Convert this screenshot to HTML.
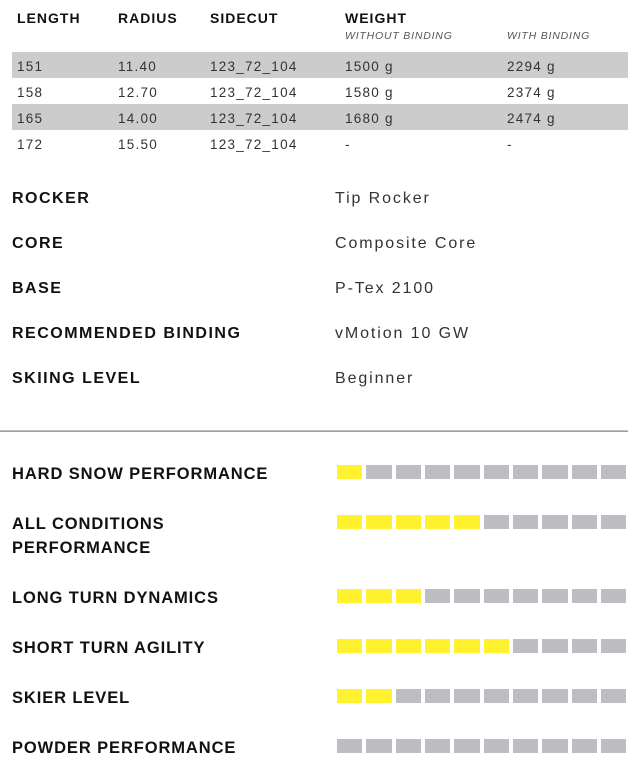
<!DOCTYPE html>
<html><head><meta charset="utf-8"><style>
html,body{margin:0;padding:0;background:#fff;}
svg{display:block;}
.h{font-family:"Liberation Sans",sans-serif;font-weight:bold;font-size:14px;fill:#111;letter-spacing:1px;}
.it{font-family:"Liberation Sans",sans-serif;font-style:italic;font-size:10.5px;fill:#555;letter-spacing:0.8px;}
.d{font-family:"Liberation Sans",sans-serif;font-size:13.5px;fill:#333;letter-spacing:1.25px;}
.l{font-family:"Liberation Sans",sans-serif;font-weight:bold;font-size:16px;fill:#111;letter-spacing:1.5px;}
.v{font-family:"Liberation Sans",sans-serif;font-size:16px;fill:#333;letter-spacing:1.9px;}
.b{font-family:"Liberation Sans",sans-serif;font-weight:bold;font-size:16.5px;fill:#111;letter-spacing:0.9px;}
.y{fill:#FFF12E;}
.g{fill:#BDBEC2;}
</style></head><body>
<svg width="638" height="764" viewBox="0 0 638 764" xmlns="http://www.w3.org/2000/svg">
<text class="h" x="17" y="23">LENGTH</text>
<text class="h" x="118" y="23">RADIUS</text>
<text class="h" x="210" y="23">SIDECUT</text>
<text class="h" x="345" y="23">WEIGHT</text>
<text class="it" x="345" y="39">WITHOUT BINDING</text>
<text class="it" x="507" y="39">WITH BINDING</text>
<rect x="12" y="52" width="616" height="26" fill="#cccccc"/>
<rect x="12" y="104" width="616" height="26" fill="#cccccc"/>
<g class="d">
<text class="d" x="17" y="71">151</text><text class="d" x="118" y="71">11.40</text><text class="d" x="210" y="71">123_72_104</text><text class="d" x="345" y="71">1500 g</text><text class="d" x="507" y="71">2294 g</text>
<text class="d" x="17" y="97">158</text><text class="d" x="118" y="97">12.70</text><text class="d" x="210" y="97">123_72_104</text><text class="d" x="345" y="97">1580 g</text><text class="d" x="507" y="97">2374 g</text>
<text class="d" x="17" y="123">165</text><text class="d" x="118" y="123">14.00</text><text class="d" x="210" y="123">123_72_104</text><text class="d" x="345" y="123">1680 g</text><text class="d" x="507" y="123">2474 g</text>
<text class="d" x="17" y="149">172</text><text class="d" x="118" y="149">15.50</text><text class="d" x="210" y="149">123_72_104</text><text class="d" x="345" y="149">-</text><text class="d" x="507" y="149">-</text>
</g>
<text class="l" x="12" y="203">ROCKER</text><text class="v" x="335" y="203">Tip Rocker</text>
<text class="l" x="12" y="248">CORE</text><text class="v" x="335" y="248">Composite Core</text>
<text class="l" x="12" y="293">BASE</text><text class="v" x="335" y="293">P-Tex 2100</text>
<text class="l" x="12" y="338">RECOMMENDED BINDING</text><text class="v" x="335" y="338">vMotion 10 GW</text>
<text class="l" x="12" y="383">SKIING LEVEL</text><text class="v" x="335" y="383">Beginner</text>
<rect x="0" y="430.5" width="628" height="1.2" fill="#7a7a7a"/>
<text class="b" x="12" y="479">HARD SNOW PERFORMANCE</text>
<text class="b" x="12" y="529">ALL CONDITIONS</text>
<text class="b" x="12" y="553">PERFORMANCE</text>
<text class="b" x="12" y="603">LONG TURN DYNAMICS</text>
<text class="b" x="12" y="653">SHORT TURN AGILITY</text>
<text class="b" x="12" y="703">SKIER LEVEL</text>
<text class="b" x="12" y="753">POWDER PERFORMANCE</text>
<!-- row 1: 1 -->
<g transform="translate(0,465)">
<rect class="y" x="337" width="25" height="14"/><rect class="g" x="366" width="26" height="14"/><rect class="g" x="396" width="25" height="14"/><rect class="g" x="425" width="25" height="14"/><rect class="g" x="454" width="26" height="14"/><rect class="g" x="484" width="25" height="14"/><rect class="g" x="513" width="25" height="14"/><rect class="g" x="542" width="26" height="14"/><rect class="g" x="572" width="25" height="14"/><rect class="g" x="601" width="25" height="14"/>
</g>
<!-- row 2: 5 -->
<g transform="translate(0,515)">
<rect class="y" x="337" width="25" height="14"/><rect class="y" x="366" width="26" height="14"/><rect class="y" x="396" width="25" height="14"/><rect class="y" x="425" width="25" height="14"/><rect class="y" x="454" width="26" height="14"/><rect class="g" x="484" width="25" height="14"/><rect class="g" x="513" width="25" height="14"/><rect class="g" x="542" width="26" height="14"/><rect class="g" x="572" width="25" height="14"/><rect class="g" x="601" width="25" height="14"/>
</g>
<!-- row 3: 3 -->
<g transform="translate(0,589)">
<rect class="y" x="337" width="25" height="14"/><rect class="y" x="366" width="26" height="14"/><rect class="y" x="396" width="25" height="14"/><rect class="g" x="425" width="25" height="14"/><rect class="g" x="454" width="26" height="14"/><rect class="g" x="484" width="25" height="14"/><rect class="g" x="513" width="25" height="14"/><rect class="g" x="542" width="26" height="14"/><rect class="g" x="572" width="25" height="14"/><rect class="g" x="601" width="25" height="14"/>
</g>
<!-- row 4: 6 -->
<g transform="translate(0,639)">
<rect class="y" x="337" width="25" height="14"/><rect class="y" x="366" width="26" height="14"/><rect class="y" x="396" width="25" height="14"/><rect class="y" x="425" width="25" height="14"/><rect class="y" x="454" width="26" height="14"/><rect class="y" x="484" width="25" height="14"/><rect class="g" x="513" width="25" height="14"/><rect class="g" x="542" width="26" height="14"/><rect class="g" x="572" width="25" height="14"/><rect class="g" x="601" width="25" height="14"/>
</g>
<!-- row 5: 2 -->
<g transform="translate(0,689)">
<rect class="y" x="337" width="25" height="14"/><rect class="y" x="366" width="26" height="14"/><rect class="g" x="396" width="25" height="14"/><rect class="g" x="425" width="25" height="14"/><rect class="g" x="454" width="26" height="14"/><rect class="g" x="484" width="25" height="14"/><rect class="g" x="513" width="25" height="14"/><rect class="g" x="542" width="26" height="14"/><rect class="g" x="572" width="25" height="14"/><rect class="g" x="601" width="25" height="14"/>
</g>
<!-- row 6: 0 -->
<g transform="translate(0,739)">
<rect class="g" x="337" width="25" height="14"/><rect class="g" x="366" width="26" height="14"/><rect class="g" x="396" width="25" height="14"/><rect class="g" x="425" width="25" height="14"/><rect class="g" x="454" width="26" height="14"/><rect class="g" x="484" width="25" height="14"/><rect class="g" x="513" width="25" height="14"/><rect class="g" x="542" width="26" height="14"/><rect class="g" x="572" width="25" height="14"/><rect class="g" x="601" width="25" height="14"/>
</g>
</svg>
</body></html>
